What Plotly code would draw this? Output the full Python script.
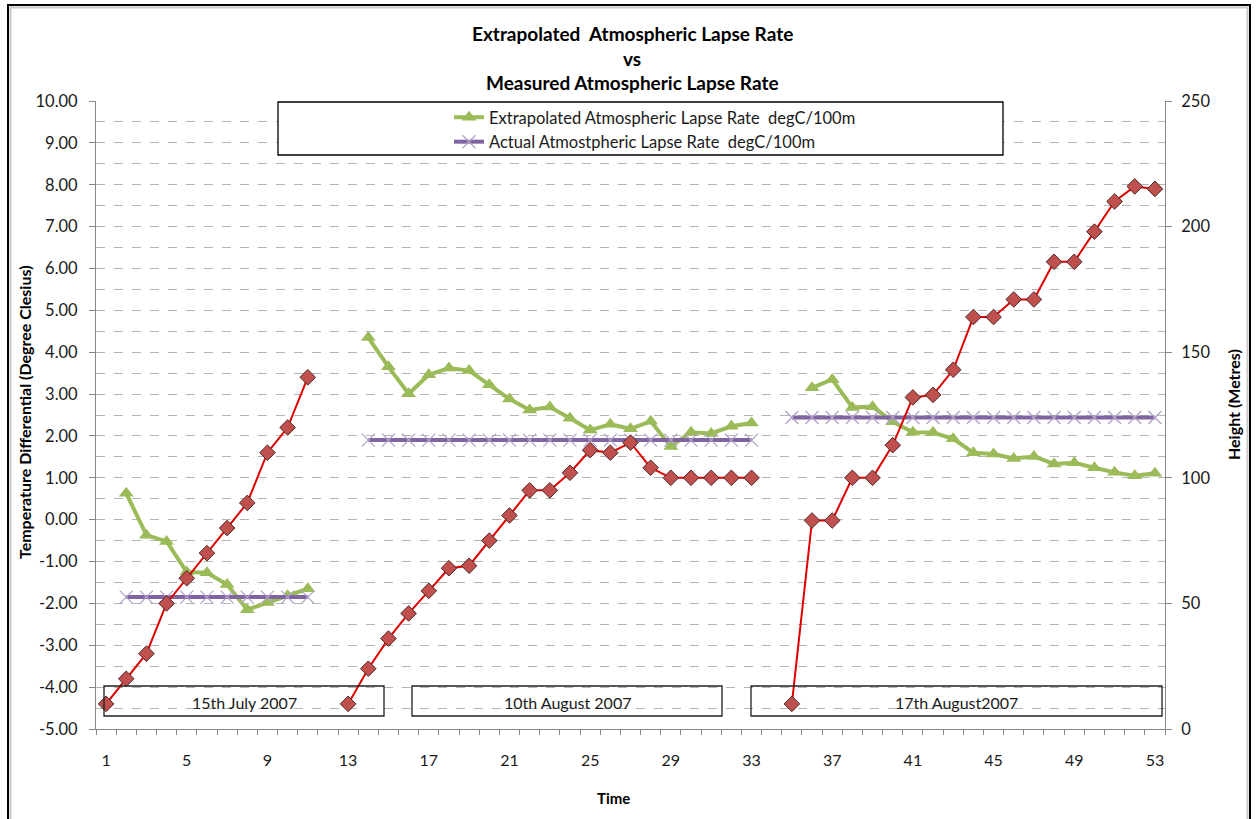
import plotly.graph_objects as go

# ---------------- data ----------------
time = list(range(1, 54))

extrapolated = [
    None, 0.63, -0.37, -0.52, -1.25, -1.27, -1.55, -2.15, -1.98, -1.82, -1.65,
    None, None,
    4.35, 3.65, 3.01, 3.46, 3.62, 3.56, 3.22, 2.88, 2.62, 2.69,
    2.42, 2.14, 2.28, 2.17, 2.35, 1.75, 2.09, 2.06, 2.23, 2.31,
    None, None,
    3.15, 3.35, 2.68, 2.70, 2.34, 2.09, 2.08, 1.93, 1.60, 1.57,
    1.46, 1.51, 1.33, 1.36, 1.24, 1.13, 1.05, 1.11,
]

actual = [
    None, -1.85, -1.85, -1.85, -1.85, -1.85, -1.85, -1.85, -1.85, -1.85, -1.85,
    None, None,
    1.90, 1.90, 1.90, 1.90, 1.90, 1.90, 1.90, 1.90, 1.90, 1.90,
    1.90, 1.90, 1.90, 1.90, 1.90, 1.90, 1.90, 1.90, 1.90, 1.90,
    None,
    2.44, 2.44, 2.44, 2.44, 2.44, 2.44, 2.44, 2.44, 2.44, 2.44,
    2.44, 2.44, 2.44, 2.44, 2.44, 2.44, 2.44, 2.44, 2.44,
]

height = [
    10, 20, 30, 50, 60, 70, 80, 90, 110, 120, 140,
    None,
    10, 24, 36, 46, 55, 64, 65, 75, 85, 95, 95,
    102, 111, 110, 114, 104, 100, 100, 100, 100, 100,
    None,
    10, 83, 83, 100, 100, 113, 132, 133, 143, 164,
    164, 171, 171, 186, 186, 198, 210, 216, 215,
]

x_tick_vals = [1, 5, 9, 13, 17, 21, 25, 29, 33, 37, 41, 45, 49, 53]
x_tick_text = [str(v) for v in x_tick_vals]
left_tick_vals = list(range(-5, 11))
left_tick_text = ["%.2f" % v for v in left_tick_vals]
right_tick_vals = [0, 50, 100, 150, 200, 250]
right_tick_text = [str(v) for v in right_tick_vals]

name_extrap = "Extrapolated Atmospheric Lapse Rate \u00a0degC/100m"
name_actual = "Actual Atmostpheric Lapse Rate \u00a0degC/100m"
name_height = "Height (Metres)"
date_labels = ["15th July 2007", "10th August 2007", "17th August2007"]
title_lines = ["Extrapolated \u00a0Atmospheric Lapse Rate", "vs",
               "Measured Atmospheric Lapse Rate"]

# ---------------- geometry ----------------
W, H = 1257, 819
L, R, T, B = 96, 1165, 101, 729


def px(x):
    return (x - L) / (R - L)


def py(y):
    return (B - y) / (B - T)


FONT = "Lato"
GRID = "#B4B4B4"
AXIS = "#868686"
TXT = "#1A1A1A"

fig = go.Figure()

fig.add_trace(go.Scatter(
    x=time, y=extrapolated, name=name_extrap, mode="lines+markers",
    line=dict(color="#9BBB59", width=4),
    marker=dict(symbol="triangle-up", size=13, color="#9BBB59"),
    legendgroup="a", connectgaps=False,
))
fig.add_trace(go.Scatter(
    x=time, y=actual, name=name_actual, mode="lines+markers",
    line=dict(color="#8064A2", width=4),
    marker=dict(symbol="x-thin", size=13, color="#B3A2C7",
                line=dict(color="#B3A2C7", width=1.3)),
    legendgroup="b", connectgaps=False,
))
fig.add_trace(go.Scatter(
    x=time, y=height, name=name_height, mode="lines+markers", yaxis="y2",
    line=dict(color="#E00000", width=2),
    marker=dict(symbol="diamond", size=12, color="#C0504D",
                line=dict(color="#4D2A2A", width=1)),
    showlegend=False, connectgaps=False,
))

shapes = [
    # legend box
    dict(type="rect", xref="paper", yref="paper",
         x0=px(278), x1=px(1003), y0=py(155), y1=py(102),
         fillcolor="white", line=dict(color="black", width=1.3), layer="above"),
    # outer chart frame
    dict(type="rect", xref="paper", yref="paper",
         x0=px(8), x1=px(1250), y0=py(840), y1=py(5),
         fillcolor="rgba(0,0,0,0)", line=dict(color="black", width=2), layer="above"),
    dict(type="rect", xref="paper", yref="paper",
         x0=px(10.5), x1=px(1247.5), y0=py(840), y1=py(7.5),
         fillcolor="rgba(0,0,0,0)", line=dict(color="#C8C8C8", width=2), layer="above"),
]
date_boxes = [(104, 384), (412, 722), (751, 1162)]
for (x0, x1) in date_boxes:
    shapes.append(dict(type="rect", xref="paper", yref="paper",
                       x0=px(x0), x1=px(x1), y0=py(716), y1=py(686),
                       fillcolor="rgba(0,0,0,0)",
                       line=dict(color="#202020", width=1.3), layer="above"))

annotations = []
for i, (line, yy) in enumerate(zip(title_lines, [33, 58, 83])):
    annotations.append(dict(text="<b>%s</b>" % line, xref="paper", yref="paper",
                            x=px(632), y=py(yy), xanchor="center", yanchor="middle",
                            showarrow=False, font=dict(family=FONT, size=19, color="black")))
for (x0, x1), lab in zip(date_boxes, date_labels):
    annotations.append(dict(text=lab, xref="paper", yref="paper",
                            x=px((x0 + x1) / 2), y=py(702), xanchor="center", yanchor="middle",
                            showarrow=False, font=dict(family=FONT, size=16, color=TXT)))
annotations.append(dict(text="<b>Time</b>", xref="paper", yref="paper",
                        x=px(613), y=py(798), xanchor="center", yanchor="middle",
                        showarrow=False, font=dict(family=FONT, size=15, color="black")))
annotations.append(dict(text="<b>Temperature Differential (Degree Clesius)</b>",
                        xref="paper", yref="paper", x=px(25), y=py(412),
                        xanchor="center", yanchor="middle", textangle=-90,
                        showarrow=False, font=dict(family=FONT, size=16, color="black")))
annotations.append(dict(text="<b>Height (Metres)</b>",
                        xref="paper", yref="paper", x=px(1233), y=py(405),
                        xanchor="center", yanchor="middle", textangle=-90,
                        showarrow=False, font=dict(family=FONT, size=16, color="black")))

fig.update_layout(
    width=W, height=H,
    margin=dict(l=L, r=W - R, t=T, b=H - B, pad=0),
    paper_bgcolor="white", plot_bgcolor="white",
    font=dict(family=FONT, size=15, color=TXT),
    showlegend=True,
    legend=dict(x=px(449), y=py(100), xanchor="left", yanchor="top",
                bgcolor="rgba(0,0,0,0)", borderwidth=0,
                font=dict(family=FONT, size=16.5, color=TXT),
                traceorder="grouped", tracegroupgap=0),
    xaxis=dict(range=[0.5, 53.5], tickmode="array", tickvals=x_tick_vals,
               ticktext=x_tick_text, ticks="", showgrid=False, zeroline=False,
               showline=True, linecolor=AXIS, linewidth=1,
               ticklabelstandoff=17, tickfont=dict(size=16, color=TXT),
               minor=dict(tickmode="linear", tick0=0.5, dtick=1, ticks="outside",
                          ticklen=5, tickcolor=AXIS, showgrid=False)),
    yaxis=dict(range=[-5, 10], tickmode="array", tickvals=left_tick_vals,
               ticktext=left_tick_text, ticks="outside", ticklen=6, tickcolor=AXIS,
               showgrid=True, gridcolor=GRID, griddash="dash", gridwidth=1,
               zeroline=False, showline=True, linecolor=AXIS, linewidth=1,
               ticklabelstandoff=8, tickfont=dict(size=16.5, color=TXT),
               minor=dict(tickmode="linear", tick0=-5, dtick=0.5, showgrid=True,
                          gridcolor=GRID, griddash="dash", gridwidth=1, ticks="")),
    yaxis2=dict(range=[0, 250], overlaying="y", side="right", tickmode="array",
                tickvals=right_tick_vals, ticktext=right_tick_text,
                ticks="outside", ticklen=6, tickcolor=AXIS, showgrid=False,
                zeroline=False, showline=True, linecolor=AXIS, linewidth=1,
                ticklabelstandoff=6, tickfont=dict(size=16.5, color=TXT)),
    shapes=shapes,
    annotations=annotations,
)

fig.write_html(
    "out.html",
    config={"displayModeBar": False},
    post_script="document.body.style.margin='0';document.body.style.padding='0';",
)
